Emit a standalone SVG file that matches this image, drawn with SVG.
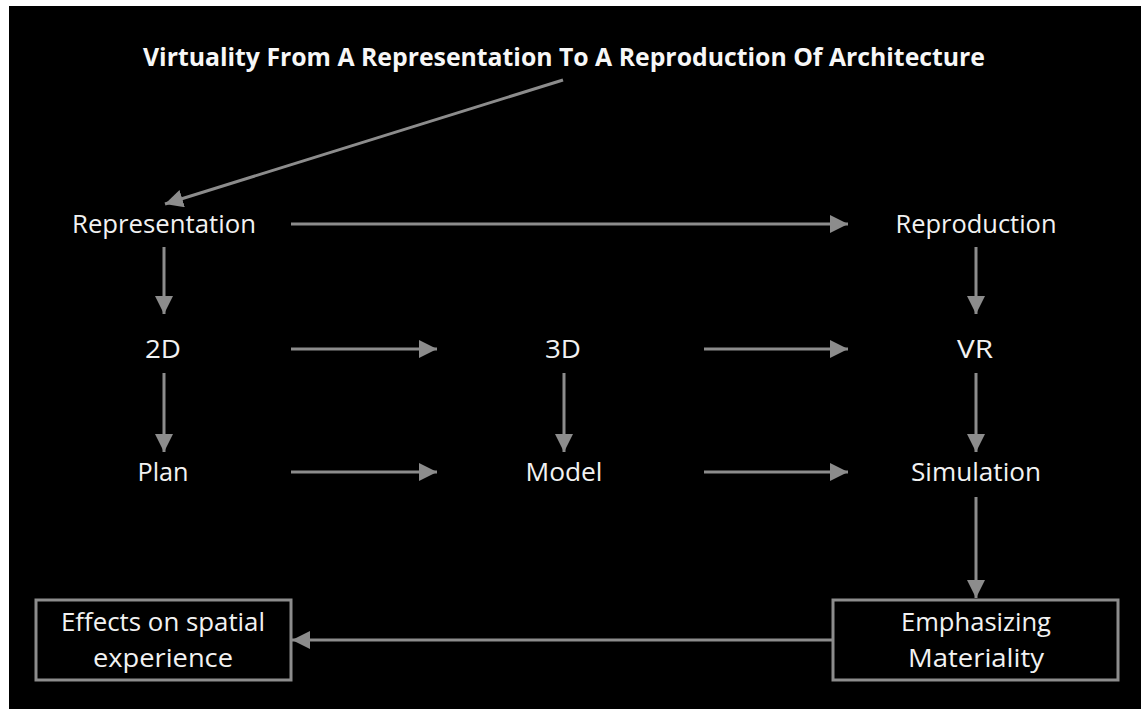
<svg xmlns="http://www.w3.org/2000/svg" width="1141" height="709" viewBox="0 0 1141 709">
<defs>
<marker id="ah" viewBox="0 0 10 10" refX="10" refY="5" markerWidth="6" markerHeight="6" markerUnits="strokeWidth" orient="auto">
<path d="M0,0 L10,5 L0,10 z" fill="#8c8c8c"/>
</marker>
<style>
.t{font-family:"Open Sans","Liberation Sans",sans-serif;font-size:25px;fill:#f2f2f2;text-anchor:middle}
.ti{font-family:"Open Sans","Liberation Sans",sans-serif;font-size:25px;font-weight:bold;fill:#f7f7f7;text-anchor:middle}
.c{stroke:#8c8c8c;stroke-width:3;fill:none;marker-end:url(#ah)}
.b{fill:#000;stroke:#8c8c8c;stroke-width:3}
</style>
</defs>
<rect width="1141" height="709" fill="#ffffff"/>
<rect x="9" y="6" width="1132" height="703" fill="#000"/>
<g id="title"><text class="ti" x="564" y="66" textLength="842" lengthAdjust="spacingAndGlyphs">Virtuality From A Representation To A Reproduction Of Architecture</text></g>
<g id="representation"><text class="t" x="164" y="233" textLength="184" lengthAdjust="spacingAndGlyphs">Representation</text></g>
<g id="reproduction"><text class="t" x="976" y="233" textLength="161" lengthAdjust="spacingAndGlyphs">Reproduction</text></g>
<g id="n2d"><text class="t" x="163" y="358" textLength="36" lengthAdjust="spacingAndGlyphs">2D</text></g>
<g id="n3d"><text class="t" x="563" y="358" textLength="36" lengthAdjust="spacingAndGlyphs">3D</text></g>
<g id="vr"><text class="t" x="975" y="358" textLength="36" lengthAdjust="spacingAndGlyphs">VR</text></g>
<g id="plan"><text class="t" x="163" y="481" textLength="51" lengthAdjust="spacingAndGlyphs">Plan</text></g>
<g id="model"><text class="t" x="564" y="481" textLength="77" lengthAdjust="spacingAndGlyphs">Model</text></g>
<g id="simulation"><text class="t" x="976" y="481" textLength="130" lengthAdjust="spacingAndGlyphs">Simulation</text></g>
<g id="effects"><rect class="b" x="36" y="600" width="255" height="80"/>
<text class="t" x="163" y="631" textLength="204" lengthAdjust="spacingAndGlyphs">Effects on spatial</text>
<text class="t" x="163" y="667" textLength="140" lengthAdjust="spacingAndGlyphs">experience</text></g>
<g id="emphasizing"><rect class="b" x="833" y="600" width="285" height="80"/>
<text class="t" x="976" y="631" textLength="150" lengthAdjust="spacingAndGlyphs">Emphasizing</text>
<text class="t" x="976" y="667" textLength="136" lengthAdjust="spacingAndGlyphs">Materiality</text></g>
<g id="connectors">
<line class="c" x1="563" y1="80" x2="165" y2="204"/>
<line class="c" x1="291" y1="224" x2="848" y2="224"/>
<line class="c" x1="164" y1="247" x2="164" y2="314"/>
<line class="c" x1="976" y1="247" x2="976" y2="314"/>
<line class="c" x1="291" y1="349" x2="437" y2="349"/>
<line class="c" x1="704" y1="349" x2="848" y2="349"/>
<line class="c" x1="164" y1="373" x2="164" y2="452"/>
<line class="c" x1="564" y1="373" x2="564" y2="452"/>
<line class="c" x1="976" y1="373" x2="976" y2="452"/>
<line class="c" x1="291" y1="472" x2="437" y2="472"/>
<line class="c" x1="704" y1="472" x2="848" y2="472"/>
<line class="c" x1="976" y1="497" x2="976" y2="598"/>
<line class="c" x1="833" y1="640" x2="292" y2="640"/>
</g>
</svg>
